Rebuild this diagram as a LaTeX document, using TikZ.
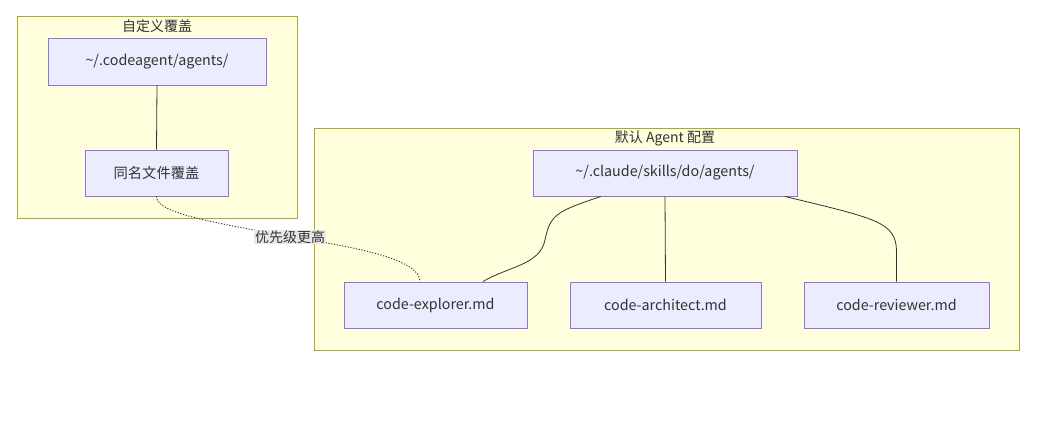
\documentclass[tikz,border=0pt]{standalone}
\usepackage{fontspec}
\setmainfont{Noto Sans CJK SC}
\definecolor{clfill}{HTML}{FFFFDE}
\definecolor{cldraw}{HTML}{AAAA33}
\definecolor{bxfill}{HTML}{ECECFF}
\definecolor{bxdraw}{HTML}{9370DB}
\definecolor{txt}{HTML}{333333}
\definecolor{lblbg}{HTML}{E8E8E8}
\tikzset{
  cluster/.style={draw=cldraw, fill=clfill, line width=0.9pt},
  cltitle/.style={text=txt, font=\fontsize{14}{16}\selectfont, inner sep=0pt},
  box/.style={draw=bxdraw, fill=bxfill, line width=0.9pt, text=txt, font=\fontsize{14.3}{16}\selectfont, inner sep=0pt},
  link/.style={draw=txt, line width=0.8pt},
  dotlink/.style={draw=txt, line width=0.9pt, dash pattern=on 1.2pt off 1.6pt},
  lbl/.style={fill=lblbg, text=txt, font=\fontsize{14}{16}\selectfont, inner sep=1pt}
}
\begin{document}
\begin{tikzpicture}[x=1pt, y=-1pt]
\useasboundingbox (0,0) rectangle (1053,435);
% clusters
\draw[cluster] (17,16) rectangle (297,218);
\node[cltitle] (t1) at (157,26) {自定义覆盖};
\draw[cluster] (314,128) rectangle (1019,350);
\node[cltitle] (t2) at (665,138) {默认 Agent 配置};
% nodes
\node[box, minimum width=218pt, minimum height=47pt] (a) at (157,61.5) {\textasciitilde/.codeagent/agents/};
\node[box, minimum width=143pt, minimum height=46pt] (b) at (156.5,173) {同名文件覆盖};
\node[box, minimum width=264pt, minimum height=46pt] (c) at (665,173) {\textasciitilde/.claude/skills/do/agents/};
\node[box, minimum width=183pt, minimum height=46pt] (d) at (435.5,305) {code-explorer.md};
\node[box, minimum width=191pt, minimum height=46pt] (e) at (665.5,305) {code-architect.md};
\node[box, minimum width=185pt, minimum height=46pt] (f) at (896.5,305) {code-reviewer.md};
% edges
\draw[link] (a.south) -- (b.north);
\draw[link] ([xshift=-64pt]c.south) .. controls +(-45,15) and +(5,-25) .. (545,240)
  .. controls +(-5,25) and +(25,-15) .. ([xshift=47.5pt]d.north);
\draw[link] (c.south) -- (e.north);
\draw[link] ([xshift=120pt]c.south) .. controls +(90,22) and +(0,-30) .. ([yshift=30pt]f.north) -- (f.north);
\coordinate (m) at (290,237);
\draw[dotlink] (b.south) .. controls +(0,18) and +(-70,-14) .. (m)
  .. controls +(80,12) and +(0,-20) .. ([xshift=-15.5pt]d.north);
\node[lbl] (l) at (m) {优先级更高};
\end{tikzpicture}
\end{document}
